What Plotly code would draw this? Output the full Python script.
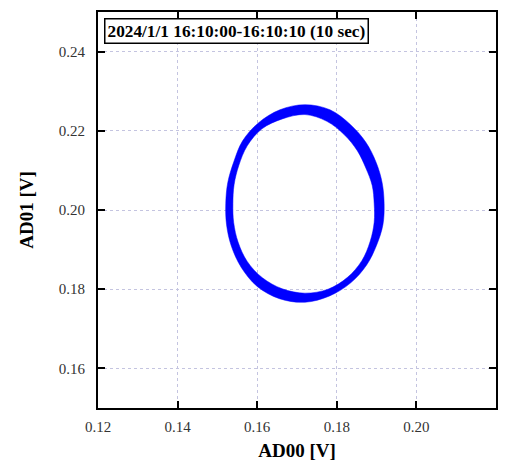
import plotly.graph_objects as go

# Outer boundary of the trajectory band (AD00, AD01) (counter-clockwise from right)
outer_x = [0.1919, 0.1914, 0.1899, 0.1873, 0.1834, 0.1783, 0.1720, 0.1657, 0.1603, 0.1563,
           0.1541, 0.1526, 0.1521, 0.1523, 0.1535, 0.1560, 0.1600, 0.1656, 0.1720, 0.1782,
           0.1835, 0.1875, 0.1900, 0.1916]
outer_y = [0.2016, 0.2069, 0.2120, 0.2171, 0.2216, 0.2253, 0.2266, 0.2253, 0.2220, 0.2174,
           0.2121, 0.2069, 0.2016, 0.1963, 0.1909, 0.1855, 0.1807, 0.1776, 0.1767, 0.1783,
           0.1816, 0.1861, 0.1911, 0.1963]
# Inner boundary of the band
inner_x = [0.1894, 0.1889, 0.1873, 0.1852, 0.1819, 0.1775, 0.1720, 0.1663, 0.1612, 0.1575,
           0.1554, 0.1542, 0.1539, 0.1541, 0.1552, 0.1575, 0.1613, 0.1663, 0.1720, 0.1778,
           0.1827, 0.1863, 0.1884, 0.1894]
inner_y = [0.2016, 0.2062, 0.2106, 0.2149, 0.2190, 0.2224, 0.2241, 0.2230, 0.2205, 0.2162,
           0.2113, 0.2064, 0.2016, 0.1968, 0.1919, 0.1870, 0.1829, 0.1801, 0.1790, 0.1800,
           0.1830, 0.1872, 0.1921, 0.1969]

x_ticks = [0.12, 0.14, 0.16, 0.18, 0.20, 0.22]
y_ticks = [0.16, 0.18, 0.20, 0.22, 0.24]
title_text = "2024/1/1 16:10:00-16:10:10 (10 sec)"

BLUE = "#0000ff"
fig = go.Figure()
fig.add_trace(go.Scatter(x=inner_x + inner_x[:1], y=inner_y + inner_y[:1], mode="lines",
                         line=dict(color=BLUE, width=0.5, shape="spline", smoothing=1.0),
                         hoverinfo="skip", showlegend=False))
fig.add_trace(go.Scatter(x=outer_x + outer_x[:1], y=outer_y + outer_y[:1], mode="lines",
                         line=dict(color=BLUE, width=0.5, shape="spline", smoothing=1.0),
                         fill="tonext", fillcolor=BLUE,
                         hoverinfo="skip", showlegend=False))

axis_common = dict(
    showline=True, linecolor="black", linewidth=2, mirror="ticks",
    ticks="inside", ticklen=7, tickwidth=2, tickcolor="black",
    showgrid=True, gridcolor="#c4c4e0", gridwidth=1, griddash="dot",
    zeroline=False, tickformat=".2f",
    tickfont=dict(family="Liberation Serif", size=15, color="#333333"),
)
fig.update_xaxes(range=[0.12, 0.22001], tickvals=x_ticks, ticklabelstandoff=4, **axis_common,
                 title=dict(text="<b>AD00 [V]</b>", standoff=10,
                            font=dict(family="Liberation Serif", size=19, color="black")))
fig.update_yaxes(range=[0.15, 0.25], tickvals=y_ticks, ticklabelstandoff=8, **axis_common,
                 title=dict(text="<b>AD01 [V]</b>", standoff=20,
                            font=dict(family="Liberation Serif", size=19, color="black")))

fig.add_annotation(text="<b>" + title_text + "</b>", xref="paper", yref="paper",
                   x=0.015, y=0.985, xanchor="left", yanchor="top", showarrow=False,
                   font=dict(family="Liberation Serif", size=17.3, color="black"),
                   bordercolor="black", borderwidth=1.5, borderpad=2, bgcolor="white")

fig.update_layout(width=505, height=465, margin=dict(l=98, r=7, t=12, b=56),
                  plot_bgcolor="white", paper_bgcolor="white", showlegend=False)
fig.write_html("out.html")
